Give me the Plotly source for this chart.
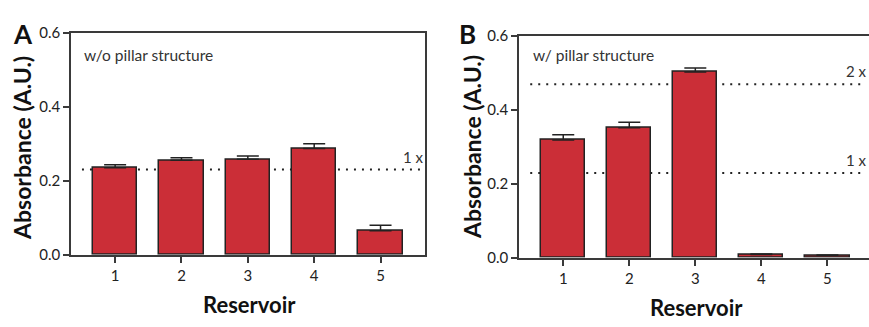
import plotly.graph_objects as go

reservoirs = [1, 2, 3, 4, 5]
tick_labels = ["1", "2", "3", "4", "5"]
y_ticks = [0.0, 0.2, 0.4, 0.6]

# Panel A: w/o pillar structure
a_values = [0.235, 0.255, 0.258, 0.287, 0.065]
a_errors = [0.008, 0.007, 0.009, 0.013, 0.015]
a_refs = [0.230]
a_ref_labels = ["1 x"]

# Panel B: w/ pillar structure
b_values = [0.318, 0.351, 0.502, 0.008, 0.006]
b_errors = [0.014, 0.015, 0.011, 0.002, 0.001]
b_refs = [0.229, 0.469]
b_ref_labels = ["1 x", "2 x"]

BAR = "#CB2E37"
EDGE = "#222222"
AX = "#3a3a3a"
FONT = "Lato"

fig = go.Figure()

def add_bars(vals, errs, xa, ya):
    fig.add_trace(go.Bar(
        x=reservoirs, y=vals, width=0.67,
        marker=dict(color=BAR, line=dict(color=EDGE, width=1.5)),
        error_y=dict(type="data", symmetric=False, array=errs,
                     arrayminus=[0] * len(errs), color=EDGE,
                     thickness=1.5, width=11),
        xaxis=xa, yaxis=ya, showlegend=False,
    ))

add_bars(a_values, a_errors, "x", "y")
add_bars(b_values, b_errors, "x2", "y2")

xr_a = [0.335, 5.67]
xr_b = [0.33, 5.63]

common_y = dict(range=[0, 0.6], tickvals=y_ticks, tickformat=".1f",
                ticks="outside", ticklen=6, tickwidth=1.5, tickcolor=AX,
                showline=True, linecolor=AX, linewidth=1.5, showgrid=False,
                zeroline=False, tickfont=dict(family=FONT, size=15, color="#222"))
common_x = dict(tickvals=reservoirs, ticktext=tick_labels,
                ticks="outside", ticklen=7, tickwidth=1.5, tickcolor=AX,
                showline=True, linecolor=AX, linewidth=1.5, showgrid=False,
                zeroline=False, tickfont=dict(family=FONT, size=15, color="#222"))

fig.update_layout(
    width=869, height=327,
    margin=dict(l=0, r=0, t=0, b=0),
    paper_bgcolor="white", plot_bgcolor="white",
    bargap=0,
    xaxis=dict(domain=[71 / 869, 425 / 869], range=xr_a, anchor="y",
               mirror=True, **common_x),
    yaxis=dict(domain=[(327 - 259) / 327, (327 - 24) / 327], anchor="x",
               mirror=True, **common_y),
    xaxis2=dict(domain=[519 / 869, 1.0], range=xr_b, anchor="y2",
                mirror=True, **common_x),
    yaxis2=dict(domain=[(327 - 262) / 327, (327 - 27.3) / 327], anchor="x2",
                **common_y),
)

shapes = []
annotations = []

def ref_lines(refs, labels, xa, ya, xr, xpaper):
    for v, lab in zip(refs, labels):
        shapes.append(dict(type="line", xref=xa, yref=ya, x0=0.5, x1=xr[1] - 0.05,
                           y0=v, y1=v, layer="below",
                           line=dict(color="#222", width=2, dash="2px,6px")))
        annotations.append(dict(xref="paper", yref=ya, x=xpaper, y=v, text=lab,
                                showarrow=False, xanchor="right", yanchor="bottom",
                                yshift=2, font=dict(family=FONT, size=15, color="#333")))

ref_lines(a_refs, a_ref_labels, "x", "y", xr_a, 426 / 869)
ref_lines(b_refs, b_ref_labels, "x2", "y2", xr_b, 1.0)

annotations += [
    dict(xref="paper", yref="paper", x=82 / 869, y=1 - 48 / 327, text="w/o pillar structure",
         showarrow=False, xanchor="left", yanchor="middle",
         font=dict(family=FONT, size=15.5, color="#333")),
    dict(xref="paper", yref="paper", x=531 / 869, y=1 - 48 / 327, text="w/ pillar structure",
         showarrow=False, xanchor="left", yanchor="middle",
         font=dict(family=FONT, size=15.5, color="#333")),
    dict(xref="paper", yref="paper", x=23 / 869, y=1 - 25 / 327, text="<b>A</b>",
         showarrow=False, xanchor="center", yanchor="middle",
         font=dict(family=FONT, size=26, color="#111")),
    dict(xref="paper", yref="paper", x=467 / 869, y=1 - 25 / 327, text="<b>B</b>",
         showarrow=False, xanchor="center", yanchor="middle",
         font=dict(family=FONT, size=26, color="#111")),
    dict(xref="paper", yref="paper", x=22 / 869, y=1 - 146 / 327, text="<b>Absorbance (A.U.)</b>",
         showarrow=False, textangle=-90, xanchor="center", yanchor="middle",
         font=dict(family=FONT, size=23, color="#111")),
    dict(xref="paper", yref="paper", x=472 / 869, y=1 - 145 / 327, text="<b>Absorbance (A.U.)</b>",
         showarrow=False, textangle=-90, xanchor="center", yanchor="middle",
         font=dict(family=FONT, size=23, color="#111")),
    dict(xref="paper", yref="paper", x=249 / 869, y=1 - 312 / 327, text="<b>Reservoir</b>",
         showarrow=False, xanchor="center", yanchor="middle",
         font=dict(family=FONT, size=22, color="#111")),
    dict(xref="paper", yref="paper", x=696 / 869, y=1 - 315 / 327, text="<b>Reservoir</b>",
         showarrow=False, xanchor="center", yanchor="middle",
         font=dict(family=FONT, size=22, color="#111")),
]

fig.update_layout(shapes=shapes, annotations=annotations)
fig.write_html("out.html", config={"displayModeBar": False},
               post_script="document.body.style.margin='0';document.body.style.overflow='hidden';")
